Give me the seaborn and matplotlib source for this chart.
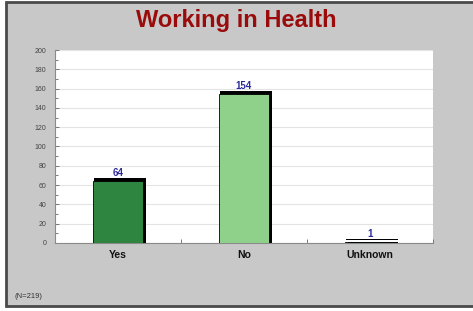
import matplotlib
matplotlib.use("Agg")
import matplotlib.pyplot as plt
import matplotlib.patheffects as pe
from matplotlib.patches import Rectangle
from matplotlib.ticker import MultipleLocator, FixedLocator
import seaborn as sns
import pandas as pd

categories = ["Yes", "No", "Unknown"]
counts = [64, 154, 1]
bar_colors = ["#2e8540", "#8fd08a", "#2e8540"]
title = "Working in Health"
note = "(N=219)"

df = pd.DataFrame({"cat": categories, "n": counts})

sns.set_theme(style="white")
plt.rcParams["font.family"] = ["Liberation Sans", "DejaVu Sans"]

fig = plt.figure(figsize=(4.73, 3.11), dpi=100)
fig.patch.set_facecolor("white")
fig.patches.append(Rectangle((0.013, 0.016), 1.0, 0.978, transform=fig.transFigure,
                             facecolor="#c8c8c8", edgecolor="#4a4a4a", linewidth=2.0,
                             zorder=-10))

ax = fig.add_axes([0.116, 0.219, 0.799, 0.62])
ax.set_facecolor("white")
sns.barplot(data=df, x="cat", y="n", hue="cat", palette=bar_colors, legend=False,
            width=0.4, ax=ax, saturation=1, edgecolor="black", linewidth=0.6, zorder=3)

d = 2.4
for p in ax.patches:
    p.set_path_effects([
        pe.SimplePatchShadow(offset=(d, 0), shadow_rgbFace="black", alpha=1.0),
        pe.SimplePatchShadow(offset=(d / 2, d), shadow_rgbFace="black", alpha=1.0),
        pe.SimplePatchShadow(offset=(d, d), shadow_rgbFace="black", alpha=1.0),
        pe.Normal()])

for p, v in zip(ax.patches, counts):
    ax.text(p.get_x() + p.get_width() / 2, v + 3.5, str(v), ha="center", va="bottom",
            color="#2b2b9a", fontsize=7, fontweight="bold")

ax.set_ylim(0, 200)
ax.set_xlim(-0.5, 2.5)
ax.yaxis.set_major_locator(MultipleLocator(20))
ax.yaxis.set_minor_locator(MultipleLocator(10))
ax.xaxis.set_minor_locator(FixedLocator([0.5, 1.5, 2.5]))
ax.grid(axis="y", which="major", color="#e4e4e4", linewidth=0.8, zorder=0)
ax.set_axisbelow(True)
ax.set_xlabel("")
ax.set_ylabel("")
for s in ["top", "right"]:
    ax.spines[s].set_visible(False)
for s in ["left", "bottom"]:
    ax.spines[s].set_color("#8a8a8a")
    ax.spines[s].set_linewidth(0.8)
ax.tick_params(axis="y", which="both", direction="in", length=3, width=0.6, color="#666666",
               labelsize=5, labelcolor="#444444", pad=6, left=True)
ax.tick_params(axis="y", which="minor", length=2)
ax.tick_params(axis="x", which="major", length=0, labelsize=7.5, pad=5)
ax.tick_params(axis="x", which="minor", direction="in", length=3, width=0.6, color="#666666",
               bottom=True)
for lbl in ax.get_xticklabels():
    lbl.set_fontweight("bold")
    lbl.set_color("#111111")

fig.text(0.5, 0.935, title, ha="center", va="center", fontsize=17, fontweight="bold",
         color="#9a0b0b")
fig.text(0.03, 0.048, note, ha="left", va="center", fontsize=5.5, color="#333333")

fig.savefig("out.png", dpi=100, facecolor=fig.get_facecolor())
